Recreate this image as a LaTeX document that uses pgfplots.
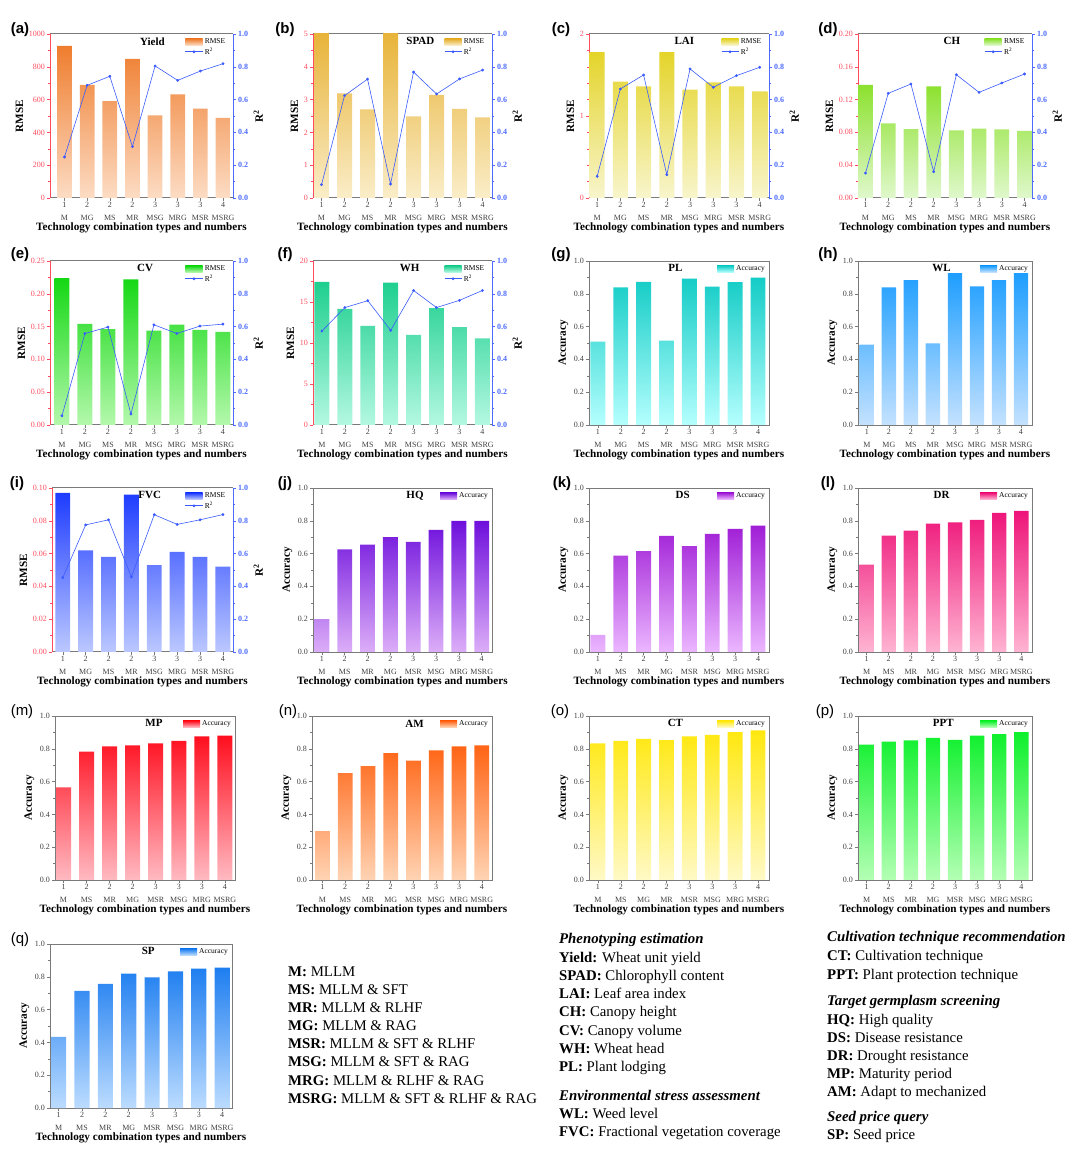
\documentclass[border=0pt]{standalone}
\usepackage{fontspec}
\setmainfont{Liberation Serif}
\setsansfont{Liberation Sans}
\usepackage{pgfplots}
\pgfplotsset{compat=1.18}

\definecolor{axred}{HTML}{FF4D5E}
\definecolor{axblue}{HTML}{4D6BFF}
\definecolor{axgray}{HTML}{7A7A7A}
\definecolor{lnblue}{HTML}{3B5BFF}
\definecolor{tklab}{HTML}{404040}
% bar gradients: top / bottom
\definecolor{cA1}{HTML}{EF7D2E}\definecolor{cA2}{HTML}{FCDCC4}
\definecolor{cB1}{HTML}{E6AE2C}\definecolor{cB2}{HTML}{FAEDC8}
\definecolor{cC1}{HTML}{E4D42A}\definecolor{cC2}{HTML}{F8F5CC}
\definecolor{cD1}{HTML}{8CE12E}\definecolor{cD2}{HTML}{E0F8CC}
\definecolor{cE1}{HTML}{14D814}\definecolor{cE2}{HTML}{B4F8AC}
\definecolor{cF1}{HTML}{1ECF8F}\definecolor{cF2}{HTML}{B4F8E2}
\definecolor{cG1}{HTML}{14CCC6}\definecolor{cG2}{HTML}{B4FFFE}
\definecolor{cH1}{HTML}{1E9EFF}\definecolor{cH2}{HTML}{C4E2FF}
\definecolor{cI1}{HTML}{1E3CFF}\definecolor{cI2}{HTML}{BCC8FF}
\definecolor{cJ1}{HTML}{6E0FDC}\definecolor{cJ2}{HTML}{DCAEF8}
\definecolor{cK1}{HTML}{A01ED6}\definecolor{cK2}{HTML}{EBB6FF}
\definecolor{cL1}{HTML}{EE1479}\definecolor{cL2}{HTML}{FFB4D2}
\definecolor{cM1}{HTML}{FF0E1E}\definecolor{cM2}{HTML}{FFBAC2}
\definecolor{cN1}{HTML}{FF6414}\definecolor{cN2}{HTML}{FFD4B4}
\definecolor{cO1}{HTML}{FFE80E}\definecolor{cO2}{HTML}{FFF9C6}
\definecolor{cP1}{HTML}{0EF02C}\definecolor{cP2}{HTML}{B4FFB4}
\definecolor{cQ1}{HTML}{1E7EF0}\definecolor{cQ2}{HTML}{BCDCFF}

\newcommand\tickfont{\fontsize{8}{12.5}\selectfont}
\newcommand\ytickfont{\fontsize{8}{10}\selectfont}
\newcommand\labfont{\bfseries\fontsize{11.2}{13}\selectfont}
\newcommand\legfont{\fontsize{7.5}{8}\selectfont}
\newcommand\titfont{\bfseries\fontsize{11}{12}\selectfont}

\pgfplotsset{
  panel/.style={
    scale only axis, height=164pt, anchor=north west,
    xmin=-0.45, xmax=7.47, xtick={0,...,7}, ymin=0,
    tick align=outside, xtick pos=bottom, ytick pos=left,
    major tick length=3pt, minor tick length=1.6pt, minor y tick num=1,
    x tick label style={align=center, font=\tickfont, text=tklab, inner sep=1.5pt},
    y tick label style={font=\ytickfont, inner sep=2pt},
    xlabel={Technology combination types and numbers},
    xlabel style={font=\labfont, yshift=3pt},
    ylabel style={font=\labfont},
    axis line style={-, line width=0.8pt},
    tick style={line width=0.5pt},
    scaled y ticks=false,
    /pgf/number format/assume math mode=true,
    /pgf/number format/1000 sep={},
  },
  legstyle/.style={legend style={draw=none, fill=none, font=\legfont,
    at={(0.975,0.99)}, anchor=north east, inner sep=1pt, row sep=-1.5pt,
    legend cell align=left}},
  swatch/.style={legend image code/.code={\shade[##1, draw=none] (0cm,-0.11cm) rectangle (0.6cm,0.11cm);}},
  leftred/.style={panel, axis x line*=box, axis y line*=left,
    x axis line style={axgray, line width=1pt}, xtick style={axgray},
    y axis line style={axred}, ytick style={axred},
    y tick label style={text=axred}, ylabel=RMSE},
  twin/.style={scale only axis, height=164pt, anchor=north west,
    xmin=-0.45, xmax=7.47, ymin=0, ymax=1,
    axis x line=none, axis y line*=right,
    axis line style={-, line width=0.8pt, axblue},
    ytick={0,0.2,0.4,0.6,0.8,1}, minor y tick num=1,
    tick align=outside, major tick length=3pt, minor tick length=1.6pt,
    ytick style={axblue, line width=0.5pt},
    y tick label style={font=\bfseries\ytickfont, text=axblue, inner sep=2pt,
      /pgf/number format/.cd, fixed, fixed zerofill, precision=1},
    ylabel={R\textsuperscript{2}}, ylabel style={font=\labfont},
    /pgf/number format/assume math mode=true, legstyle},
  acc/.style={panel, ymax=1, ytick={0,0.2,0.4,0.6,0.8,1},
    axis line style={axgray}, tick style={axgray},
    x axis line style={line width=1pt},
    y tick label style={text=tklab, /pgf/number format/.cd, fixed, fixed zerofill, precision=1},
    ylabel=Accuracy, legstyle, legend style={at={(0.995,0.99)}}},
  prec2/.style={y tick label style={/pgf/number format/.cd, fixed, fixed zerofill, precision=2}},
  bars/.style 2 args={ybar, bar width=0.65, draw=none, top color=#1, bottom color=#2, swatch},
  r2/.style={lnblue, line width=0.6pt, mark=*, mark size=1.1pt, mark options={solid, fill=lnblue}},
  ordA/.style={xticklabels={{1\\M},{2\\MG},{2\\MS},{2\\MR},{3\\MSG},{3\\MRG},{3\\MSR},{4\\MSRG}}},
  ordB/.style={xticklabels={{1\\M},{2\\MS},{2\\MR},{2\\MG},{3\\MSR},{3\\MSG},{3\\MRG},{4\\MSRG}}},
  ordC/.style={xticklabels={{1\\M},{2\\MS},{2\\MG},{2\\MR},{3\\MSR},{3\\MSG},{3\\MRG},{4\\MSRG}}},
}
\tikzset{
  ttl/.style={font=\titfont, inner sep=0pt},
  plab/.style={font=\sffamily\bfseries\fontsize{15}{15}\selectfont},
  plabr/.style={font=\sffamily\fontsize{15}{15}\selectfont},
  txt/.style={anchor=base west, font=\fontsize{14.8}{17}\selectfont, inner sep=0pt},
}

\begin{document}
\begin{tikzpicture}[x=1pt,y=1pt]
\useasboundingbox (0,0) rectangle (1080,1162);

%% ---------------- row 1 ----------------
% (a) Yield
\begin{axis}[leftred, width=183pt, at={(50pt,1128pt)}, xmin=-0.64, xmax=7.44,
  ymax=1000, ytick={0,200,400,600,800,1000}, ordA]
\addplot[bars={cA1}{cA2}] coordinates {(0,927)(1,689)(2,590)(3,849)(4,504)(5,632)(6,545)(7,488)};
\node[ttl] at (rel axis cs:0.56,0.955) {Yield};
\end{axis}
\begin{axis}[twin, width=183pt, at={(50pt,1128pt)}, xmin=-0.64, xmax=7.44]
\addlegendimage{swatch, top color=cA1, bottom color=cA2}
\addlegendentry{RMSE}
\addplot[r2] coordinates {(0,0.25)(1,0.687)(2,0.742)(3,0.313)(4,0.805)(5,0.717)(6,0.774)(7,0.819)};
\addlegendentry{R\textsuperscript{2}}
\end{axis}

% (b) SPAD
\begin{axis}[leftred, width=179pt, at={(313pt,1128pt)}, xmin=-0.37, xmax=7.41,
  ymax=5, ytick={0,1,2,3,4,5}, ordA]
\addplot[bars={cB1}{cB2}] coordinates {(0,5.5)(1,3.19)(2,2.70)(3,5.5)(4,2.49)(5,3.14)(6,2.72)(7,2.46)};
\node[ttl] at (rel axis cs:0.6,0.955) {SPAD};
\end{axis}
\begin{axis}[twin, width=179pt, at={(313pt,1128pt)}, xmin=-0.37, xmax=7.41]
\addlegendimage{swatch, top color=cB1, bottom color=cB2}
\addlegendentry{RMSE}
\addplot[r2] coordinates {(0,0.081)(1,0.624)(2,0.725)(3,0.085)(4,0.768)(5,0.634)(6,0.726)(7,0.78)};
\addlegendentry{R\textsuperscript{2}}
\end{axis}

% (c) LAI
\begin{axis}[leftred, width=180pt, at={(589pt,1128pt)}, xmin=-0.35, xmax=7.4,
  ymax=2, ytick={0,1,2}, minor y tick num=4, ordA]
\addplot[bars={cC1}{cC2}] coordinates {(0,1.78)(1,1.42)(2,1.36)(3,1.78)(4,1.32)(5,1.41)(6,1.36)(7,1.30)};
\node[ttl] at (rel axis cs:0.53,0.955) {LAI};
\end{axis}
\begin{axis}[twin, width=180pt, at={(589pt,1128pt)}, xmin=-0.35, xmax=7.4]
\addlegendimage{swatch, top color=cC1, bottom color=cC2}
\addlegendentry{RMSE}
\addplot[r2] coordinates {(0,0.132)(1,0.665)(2,0.75)(3,0.142)(4,0.787)(5,0.675)(6,0.746)(7,0.797)};
\addlegendentry{R\textsuperscript{2}}
\end{axis}

% (d) CH
\begin{axis}[leftred, width=174pt, at={(858pt,1128pt)}, xmin=-0.33, xmax=7.33,
  ymax=0.2, ytick={0,0.04,0.08,0.12,0.16,0.2}, prec2, ordA]
\addplot[bars={cD1}{cD2}] coordinates {(0,0.138)(1,0.091)(2,0.084)(3,0.136)(4,0.0825)(5,0.0846)(6,0.0837)(7,0.0817)};
\node[ttl] at (rel axis cs:0.54,0.955) {CH};
\end{axis}
\begin{axis}[twin, width=174pt, at={(858pt,1128pt)}, xmin=-0.33, xmax=7.33]
\addlegendimage{swatch, top color=cD1, bottom color=cD2}
\addlegendentry{RMSE}
\addplot[r2] coordinates {(0,0.152)(1,0.638)(2,0.695)(3,0.16)(4,0.752)(5,0.644)(6,0.701)(7,0.756)};
\addlegendentry{R\textsuperscript{2}}
\end{axis}

%% ---------------- row 2 ----------------
% (e) CV
\begin{axis}[leftred, width=183pt, at={(50pt,901pt)}, xmin=-0.52, xmax=7.44,
  ymax=0.25, ytick={0,0.05,0.1,0.15,0.2,0.25}, prec2, ordA]
\addplot[bars={cE1}{cE2}] coordinates {(0,0.224)(1,0.154)(2,0.146)(3,0.222)(4,0.144)(5,0.153)(6,0.145)(7,0.142)};
\node[ttl] at (rel axis cs:0.52,0.955) {CV};
\end{axis}
\begin{axis}[twin, width=183pt, at={(50pt,901pt)}, xmin=-0.52, xmax=7.44]
\addlegendimage{swatch, top color=cE1, bottom color=cE2}
\addlegendentry{RMSE}
\addplot[r2] coordinates {(0,0.056)(1,0.558)(2,0.597)(3,0.067)(4,0.611)(5,0.558)(6,0.603)(7,0.615)};
\addlegendentry{R\textsuperscript{2}}
\end{axis}

% (f) WH
\begin{axis}[leftred, width=179pt, at={(313pt,901pt)}, xmin=-0.39, xmax=7.42,
  ymax=20, ytick={0,5,10,15,20}, ordA]
\addplot[bars={cF1}{cF2}] coordinates {(0,17.45)(1,14.15)(2,12.1)(3,17.35)(4,11.0)(5,14.25)(6,11.95)(7,10.55)};
\node[ttl] at (rel axis cs:0.54,0.955) {WH};
\end{axis}
\begin{axis}[twin, width=179pt, at={(313pt,901pt)}, xmin=-0.39, xmax=7.42]
\addlegendimage{swatch, top color=cF1, bottom color=cF2}
\addlegendentry{RMSE}
\addplot[r2] coordinates {(0,0.573)(1,0.716)(2,0.758)(3,0.577)(4,0.82)(5,0.716)(6,0.76)(7,0.82)};
\addlegendentry{R\textsuperscript{2}}
\end{axis}

% (g) PL
\begin{axis}[acc, width=180pt, at={(589pt,901pt)}, xmin=-0.39, xmax=7.48, ordA]
\addplot[bars={cG1}{cG2}] coordinates {(0,0.508)(1,0.839)(2,0.872)(3,0.514)(4,0.893)(5,0.844)(6,0.871)(7,0.899)};
\addlegendentry{Accuracy}
\node[ttl] at (rel axis cs:0.48,0.955) {PL};
\end{axis}

% (h) WL
\begin{axis}[acc, width=174pt, at={(858pt,901pt)}, xmin=-0.4, xmax=7.5, ordA]
\addplot[bars={cH1}{cH2}] coordinates {(0,0.49)(1,0.839)(2,0.883)(3,0.497)(4,0.926)(5,0.845)(6,0.883)(7,0.926)};
\addlegendentry{Accuracy}
\node[ttl] at (rel axis cs:0.48,0.955) {WL};
\end{axis}

%% ---------------- row 3 ----------------
% (i) FVC
\begin{axis}[leftred, width=181pt, at={(52pt,674pt)}, xmin=-0.47, xmax=7.44,
  ymax=0.1, ytick={0,0.02,0.04,0.06,0.08,0.1}, prec2, ordA]
\addplot[bars={cI1}{cI2}] coordinates {(0,0.097)(1,0.062)(2,0.058)(3,0.096)(4,0.053)(5,0.061)(6,0.058)(7,0.052)};
\node[ttl] at (rel axis cs:0.54,0.955) {FVC};
\end{axis}
\begin{axis}[twin, width=181pt, at={(52pt,674pt)}, xmin=-0.47, xmax=7.44]
\addlegendimage{swatch, top color=cI1, bottom color=cI2}
\addlegendentry{RMSE}
\addplot[r2] coordinates {(0,0.453)(1,0.775)(2,0.806)(3,0.458)(4,0.837)(5,0.778)(6,0.806)(7,0.838)};
\addlegendentry{R\textsuperscript{2}}
\end{axis}

% (j) HQ
\begin{axis}[acc, width=179pt, at={(313pt,674pt)}, xmin=-0.39, xmax=7.45, ordB]
\addplot[bars={cJ1}{cJ2}] coordinates {(0,0.20)(1,0.625)(2,0.655)(3,0.70)(4,0.672)(5,0.744)(6,0.799)(7,0.799)};
\addlegendentry{Accuracy}
\node[ttl] at (rel axis cs:0.57,0.955) {HQ};
\end{axis}

% (k) DS
\begin{axis}[acc, width=180pt, at={(589pt,674pt)}, xmin=-0.39, xmax=7.48, ordB]
\addplot[bars={cK1}{cK2}] coordinates {(0,0.105)(1,0.587)(2,0.615)(3,0.708)(4,0.645)(5,0.72)(6,0.75)(7,0.77)};
\addlegendentry{Accuracy}
\node[ttl] at (rel axis cs:0.52,0.955) {DS};
\end{axis}

% (l) DR
\begin{axis}[acc, width=174pt, at={(858pt,674pt)}, xmin=-0.39, xmax=7.48, ordB]
\addplot[bars={cL1}{cL2}] coordinates {(0,0.533)(1,0.71)(2,0.74)(3,0.783)(4,0.79)(5,0.805)(6,0.848)(7,0.86)};
\addlegendentry{Accuracy}
\node[ttl] at (rel axis cs:0.48,0.955) {DR};
\end{axis}

%% ---------------- row 4 ----------------
% (m) MP
\begin{axis}[acc, width=180pt, at={(55pt,446pt)}, xmin=-0.37, xmax=7.44, ordB]
\addplot[bars={cM1}{cM2}] coordinates {(0,0.565)(1,0.782)(2,0.815)(3,0.821)(4,0.833)(5,0.849)(6,0.875)(7,0.881)};
\addlegendentry{Accuracy}
\node[ttl] at (rel axis cs:0.55,0.955) {MP};
\end{axis}

% (n) AM
\begin{axis}[acc, width=180pt, at={(312pt,446pt)}, xmin=-0.46, xmax=7.45, ordB]
\addplot[bars={cN1}{cN2}] coordinates {(0,0.298)(1,0.651)(2,0.694)(3,0.774)(4,0.728)(5,0.79)(6,0.815)(7,0.821)};
\addlegendentry{Accuracy}
\node[ttl] at (rel axis cs:0.57,0.955) {AM};
\end{axis}

% (o) CT
\begin{axis}[acc, width=180pt, at={(589pt,446pt)}, xmin=-0.39, xmax=7.48, ordC]
\addplot[bars={cO1}{cO2}] coordinates {(0,0.833)(1,0.849)(2,0.861)(3,0.853)(4,0.875)(5,0.885)(6,0.901)(7,0.913)};
\addlegendentry{Accuracy}
\node[ttl] at (rel axis cs:0.48,0.955) {CT};
\end{axis}

% (p) PPT
\begin{axis}[acc, width=174pt, at={(858pt,446pt)}, xmin=-0.39, xmax=7.48, ordB]
\addplot[bars={cP1}{cP2}] coordinates {(0,0.825)(1,0.843)(2,0.851)(3,0.867)(4,0.855)(5,0.881)(6,0.889)(7,0.901)};
\addlegendentry{Accuracy}
\node[ttl] at (rel axis cs:0.49,0.955) {PPT};
\end{axis}

%% ---------------- row 5 ----------------
% (q) SP
\begin{axis}[acc, width=182pt, at={(50pt,218pt)}, xmin=-0.37, xmax=7.42, ordB]
\addplot[bars={cQ1}{cQ2}] coordinates {(0,0.434)(1,0.714)(2,0.757)(3,0.82)(4,0.796)(5,0.833)(6,0.85)(7,0.856)};
\addlegendentry{Accuracy}
\node[ttl] at (rel axis cs:0.54,0.955) {SP};
\end{axis}

%% panel letters
\node[plab] at (20,1132) {(a)};
\node[plab] at (285,1132) {(b)};
\node[plab] at (561,1132) {(c)};
\node[plab] at (828,1132) {(d)};
\node[plab] at (20,907) {(e)};
\node[plab] at (285,907) {(f)};
\node[plab] at (561,907) {(g)};
\node[plab] at (828,907) {(h)};
\node[plab] at (17,678) {(i)};
\node[plab] at (285,678) {(j)};
\node[plab] at (562,678) {(k)};
\node[plab] at (828,678) {(l)};
\node[plabr] at (22,450) {(m)};
\node[plabr] at (288,450) {(n)};
\node[plabr] at (560,450) {(o)};
\node[plabr] at (825,450) {(p)};
\node[plabr] at (20,222) {(q)};

%% abbreviation key
\node[txt] at (288,{1162-976.5}) {\textbf{M:} MLLM};
\node[txt] at (288,{1162-994.6}) {\textbf{MS:} MLLM \& SFT};
\node[txt] at (288,{1162-1012.7}) {\textbf{MR:} MLLM \& RLHF};
\node[txt] at (288,{1162-1030.8}) {\textbf{MG:} MLLM \& RAG};
\node[txt] at (288,{1162-1048.9}) {\textbf{MSR:} MLLM \& SFT \& RLHF};
\node[txt] at (288,{1162-1067}) {\textbf{MSG:} MLLM \& SFT \& RAG};
\node[txt] at (288,{1162-1085.1}) {\textbf{MRG:} MLLM \& RLHF \& RAG};
\node[txt] at (288,{1162-1103.2}) {\textbf{MSRG:} MLLM \& SFT \& RLHF \& RAG};

\node[txt] at (559,{1162-944}) {\textbf{\textit{Phenotyping estimation}}};
\node[txt] at (559,{1162-962.5}) {\textbf{Yield:} Wheat unit yield};
\node[txt] at (559,{1162-981}) {\textbf{SPAD:} Chlorophyll content};
\node[txt] at (559,{1162-999}) {\textbf{LAI:} Leaf area index};
\node[txt] at (559,{1162-1017}) {\textbf{CH:} Canopy height};
\node[txt] at (559,{1162-1035.5}) {\textbf{CV:} Canopy volume};
\node[txt] at (559,{1162-1053.5}) {\textbf{WH:} Wheat head};
\node[txt] at (559,{1162-1072}) {\textbf{PL:} Plant lodging};
\node[txt] at (559,{1162-1101}) {\textbf{\textit{Environmental stress assessment}}};
\node[txt] at (559,{1162-1118.5}) {\textbf{WL:} Weed level};
\node[txt] at (559,{1162-1136.5}) {\textbf{FVC:} Fractional vegetation coverage};

\node[txt] at (827,{1162-942}) {\textbf{\textit{Cultivation technique recommendation}}};
\node[txt] at (827,{1162-961}) {\textbf{CT:} Cultivation technique};
\node[txt] at (827,{1162-979.5}) {\textbf{PPT:} Plant protection technique};
\node[txt] at (827,{1162-1006}) {\textbf{\textit{Target germplasm screening}}};
\node[txt] at (827,{1162-1025}) {\textbf{HQ:} High quality};
\node[txt] at (827,{1162-1043}) {\textbf{DS:} Disease resistance};
\node[txt] at (827,{1162-1061}) {\textbf{DR:} Drought resistance};
\node[txt] at (827,{1162-1079}) {\textbf{MP:} Maturity period};
\node[txt] at (827,{1162-1097}) {\textbf{AM:} Adapt to mechanized};
\node[txt] at (827,{1162-1122}) {\textbf{\textit{Seed price query}}};
\node[txt] at (827,{1162-1140}) {\textbf{SP:} Seed price};
\end{tikzpicture}
\end{document}
